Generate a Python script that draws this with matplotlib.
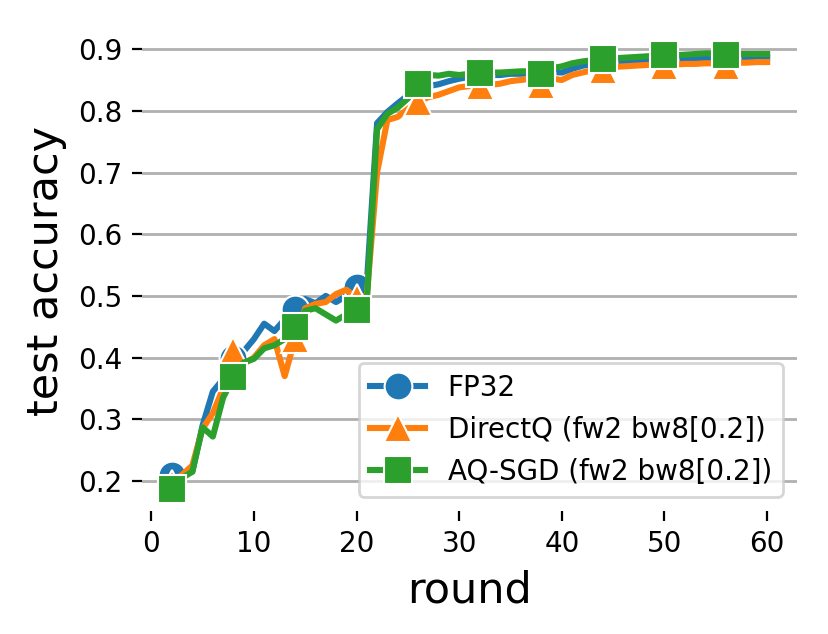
import numpy as np
import matplotlib
matplotlib.use("Agg")
import matplotlib.pyplot as plt

rounds = list(range(2, 61))

fp32 = [0.21, 0.215, 0.215, 0.29, 0.345, 0.365, 0.40, 0.41, 0.43, 0.455,
        0.443, 0.462, 0.478, 0.495, 0.488, 0.50, 0.49, 0.50, 0.515, 0.52,
        0.78, 0.798, 0.812, 0.825, 0.84, 0.84, 0.843, 0.848, 0.852, 0.855,
        0.86, 0.858, 0.858, 0.86, 0.86, 0.861, 0.86, 0.863, 0.862, 0.868,
        0.873, 0.876, 0.878, 0.879, 0.88, 0.88, 0.881, 0.882, 0.883, 0.884,
        0.884, 0.884, 0.885, 0.885, 0.886, 0.886, 0.886, 0.886, 0.886]

directq = [0.195, 0.21, 0.225, 0.285, 0.31, 0.35, 0.41, 0.39, 0.40, 0.42,
           0.43, 0.37, 0.43, 0.48, 0.487, 0.49, 0.503, 0.51, 0.497, 0.50,
           0.70, 0.785, 0.79, 0.803, 0.815, 0.822, 0.826, 0.832, 0.838, 0.84,
           0.84, 0.842, 0.844, 0.848, 0.85, 0.852, 0.842, 0.852, 0.85, 0.858,
           0.862, 0.866, 0.866, 0.871, 0.872, 0.873, 0.874, 0.875, 0.872, 0.875,
           0.876, 0.876, 0.877, 0.877, 0.872, 0.878, 0.878, 0.879, 0.879]

aqsgd = [0.187, 0.205, 0.215, 0.287, 0.272, 0.335, 0.368, 0.392, 0.398, 0.415,
         0.42, 0.43, 0.45, 0.476, 0.48, 0.47, 0.46, 0.47, 0.477, 0.49,
         0.77, 0.795, 0.805, 0.82, 0.844, 0.858, 0.857, 0.86, 0.858, 0.86,
         0.862, 0.862, 0.862, 0.863, 0.864, 0.864, 0.859, 0.869, 0.872, 0.877,
         0.88, 0.882, 0.884, 0.885, 0.886, 0.887, 0.888, 0.889, 0.891, 0.89,
         0.891, 0.892, 0.893, 0.893, 0.891, 0.892, 0.892, 0.892, 0.892]

labels = ['FP32', 'DirectQ (fw2 bw8[0.2])', 'AQ-SGD (fw2 bw8[0.2])']
markers = ['o', '^', 's']
colors = ['#1f77b4', '#ff7f0e', '#2ca02c']

fig = plt.figure(figsize=(8.29 / 2, 6.34 / 2), dpi=200)
ax = fig.add_axes([0.1713, 0.1946, 0.79, 0.7552])

for ys, lab, m, c in zip([fp32, directq, aqsgd], labels, markers, colors):
    ax.plot(rounds, ys, color=c, lw=2.2, marker=m, markersize=10,
            markevery=6, markeredgecolor='white', markeredgewidth=0.75,
            label=lab)

ax.set_ylim(0.152, 0.928)
ax.set_xticks([0, 10, 20, 30, 40, 50, 60])
ax.set_yticks([0.2, 0.3, 0.4, 0.5, 0.6, 0.7, 0.8, 0.9])
ax.tick_params(labelsize=10)
ax.grid(axis='y', color='#b0b0b0', lw=1.0)
ax.set_axisbelow(True)
for s in ax.spines.values():
    s.set_visible(False)

ax.set_xlabel('round', fontsize=15.5)
ax.set_ylabel('test accuracy', fontsize=15.5)
ax.legend(loc='lower right', fontsize=10)

fig.savefig('out.png', dpi=200)
